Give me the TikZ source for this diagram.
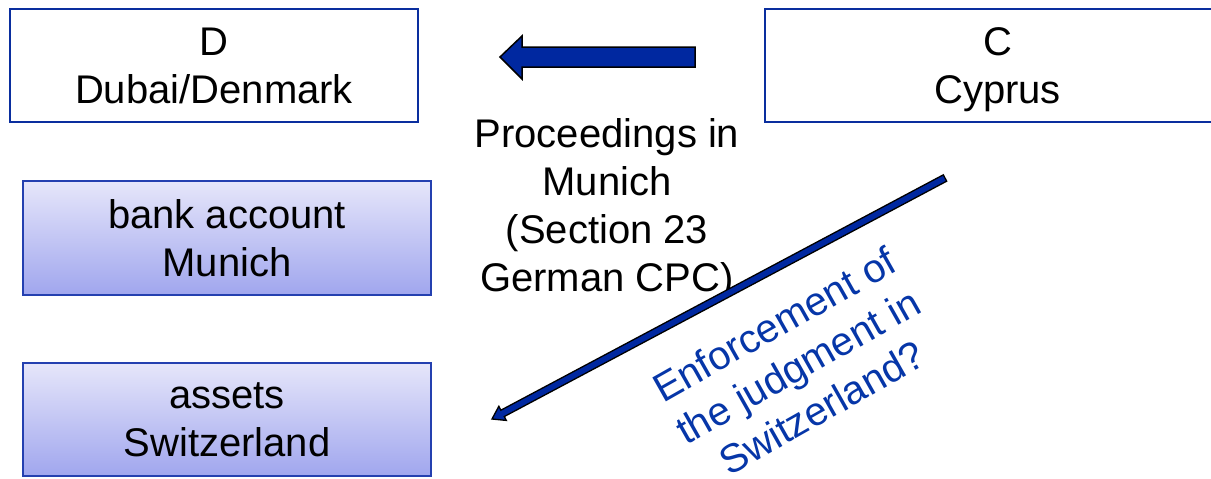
\documentclass[tikz,border=0pt]{standalone}
\usepackage{fontspec}
\setmainfont{Liberation Sans}
\usetikzlibrary{calc}
\definecolor{boxline}{HTML}{0A2E9E}
\definecolor{shadeline}{HTML}{2440B0}
\definecolor{navy}{HTML}{0028A0}
\definecolor{labelblue}{HTML}{0636A8}
\definecolor{shadetop}{HTML}{E6E6FA}
\definecolor{shadebot}{HTML}{A0A6EE}
\tikzset{
  bigtext/.style={font=\fontsize{40}{48}\selectfont, align=center},
  plainbox/.style={bigtext, text depth=0pt, draw=boxline, line width=2, fill=white, inner sep=0},
  shadedbox/.style={bigtext, text depth=0pt, draw=shadeline, line width=1.5, top color=shadetop, bottom color=shadebot, inner sep=0},
}
\begin{document}
\begin{tikzpicture}[x=1pt,y=-1pt]
\useasboundingbox (0,0) rectangle (1211,479);

% parties
\node[plainbox, minimum width=408, minimum height=113] (d) at (214,65.5) {D\\Dubai/Denmark};
\node[plainbox, minimum width=465, minimum height=113] (c) at (997.5,65.5) {C\\Cyprus};

% assets of D
\node[shadedbox, minimum width=408, minimum height=114] (bank) at (227,238) {bank account\\Munich};
\node[shadedbox, minimum width=408, minimum height=113] (assets) at (227,419.5) {assets\\Switzerland};

% block arrow from C towards D
\filldraw[fill=navy, draw=black, line width=1.5]
  (695,47) -- (522,47) -- (522,36) -- (500,57) -- (522,79) -- (522,67) -- (695,67) -- cycle;

% proceedings label
\node[bigtext] (proc) at (607,209) {Proceedings in\\Munich\\(Section 23\\German CPC)};

% enforcement arrow, drawn as an outlined block arrow
\coordinate (es) at (945,178);
\coordinate (ee) at (492,419);
\coordinate (hb) at ($(ee)!12pt!(es)$);
\filldraw[fill=navy, draw=black, line width=1.3, line join=miter]
  (ee) -- ($(hb)!8pt!90:(es)$) -- ($(hb)!3.6pt!90:(es)$)
  -- ($(es)!3.6pt!-90:(hb)$) -- ($(es)!3.6pt!90:(hb)$)
  -- ($(hb)!3.6pt!-90:(es)$) -- ($(hb)!8pt!-90:(es)$) -- cycle;

% enforcement label
\node[bigtext, text=labelblue, rotate=29.5] (enf) at (798,366) {Enforcement of\\the judgment in\\Switzerland?};
\end{tikzpicture}
\end{document}
